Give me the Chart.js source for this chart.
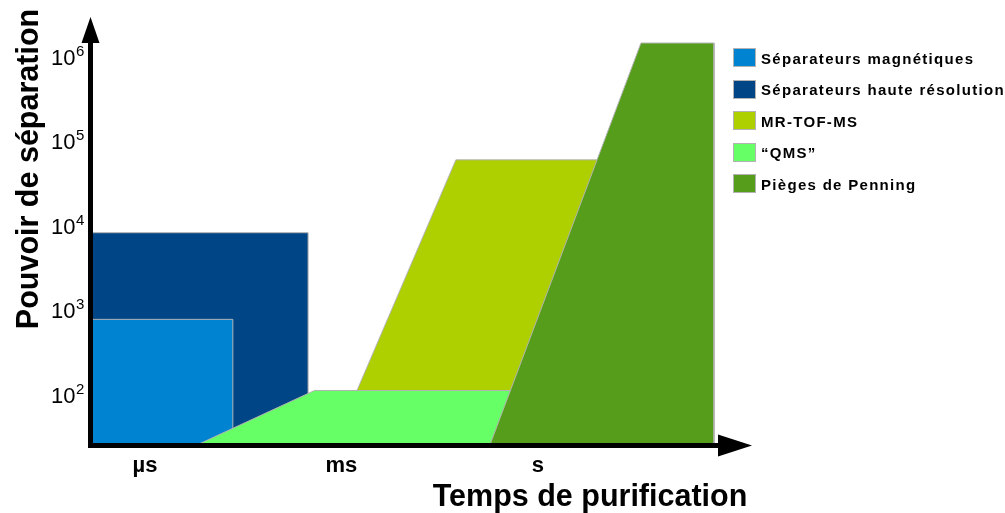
<!DOCTYPE html>
<html>
<head>
<meta charset="utf-8">
<script src="https://cdn.jsdelivr.net/npm/chart.js@4.4.1/dist/chart.umd.min.js"></script>
<style>
  html, body { margin: 0; padding: 0; background: #ffffff; }
  #wrap { position: relative; width: 1005px; height: 513px; overflow: hidden; }
  #c { position: absolute; left: 0; top: 0; }
  .lg-box { position: absolute; width: 23px; height: 19px; box-sizing: border-box; border: 1px solid #b3b3b3; }
  .lg-text { position: absolute; font: bold 15px "Liberation Sans", Arial, sans-serif; letter-spacing: 1.3px; color: #000; white-space: nowrap; line-height: 19px; }
</style>
</head>
<body>
<div id="wrap">
  <canvas id="c" width="1005" height="513"></canvas>
</div>
<script>
// ---------- data ----------
// axis ranges (seconds, resolving power)
const X_MIN = 1.45e-7, X_MAX = 1860;
const Y_MIN = 26, Y_MAX = 3.05e6;

// x tick labels (purification time)
const xTickValues = [1e-6, 1e-3, 1];
const xTickLabels = ['µs', 'ms', 's'];
// y tick labels: powers of ten
const yTickExponents = [2, 3, 4, 5, 6];

const seriesNames = [
  'Séparateurs magnétiques',
  'Séparateurs haute résolution',
  'MR-TOF-MS',
  '“QMS”',
  'Pièges de Penning'
];
const seriesColors = ['#0084d1', '#004586', '#aecf00', '#66ff66', '#579d1c'];
// stacking: lower = drawn on top
const seriesOrder = [3, 4, 1, 2, 0];

// polygon corners: time (s) and resolving power
const magX  = [X_MIN, 2.2e-5, 2.2e-5, X_MIN, X_MIN];
const magY  = [Y_MIN, Y_MIN, 800, 800, Y_MIN];
const hrX   = [X_MIN, 3.1e-4, 3.1e-4, X_MIN, X_MIN];
const hrY   = [Y_MIN, Y_MIN, 8500, 8500, Y_MIN];
const tofX  = [1.73e-3, 0.056, 30, 30, 1.73e-3];
const tofY  = [115, 62000, 62000, 115, 115];
const qmsX  = [6.2e-6, 3.9e-4, 1, 1, 6.2e-6];
const qmsY  = [Y_MIN, 115, 115, Y_MIN, Y_MIN];
const penX  = [0.185, 37.5, 490, 490, 0.185];
const penY  = [Y_MIN, 1.5e6, 1.5e6, Y_MIN, Y_MIN];

const seriesX = [magX, hrX, tofX, qmsX, penX];
const seriesY = [magY, hrY, tofY, qmsY, penY];

// ---------- chart ----------
const FONT = '"Liberation Sans", Arial, sans-serif';

const datasets = seriesNames.map((name, i) => ({
  label: name,
  data: seriesX[i].map((x, j) => ({ x: x, y: seriesY[i][j] })),
  backgroundColor: seriesColors[i],
  borderColor: '#b3b3b3',
  borderWidth: 1,
  pointRadius: 0,
  pointHoverRadius: 0,
  tension: 0,
  fill: 'shape',
  order: seriesOrder[i]
}));

const decorPlugin = {
  id: 'decor',
  afterDatasetsDraw(chart) {
    const ctx = chart.ctx;
    const a = chart.chartArea;
    const xs = chart.scales.x, ys = chart.scales.y;
    const ax = a.left + 0.5, ay = a.bottom + 0.5;
    ctx.save();
    ctx.fillStyle = '#000';
    ctx.strokeStyle = '#000';
    ctx.lineWidth = 5;
    ctx.lineCap = 'butt';
    // y axis line
    ctx.beginPath();
    ctx.moveTo(ax, ay + 2.5);
    ctx.lineTo(ax, a.top + 24);
    ctx.stroke();
    // x axis line
    ctx.beginPath();
    ctx.moveTo(ax - 2.5, ay);
    ctx.lineTo(a.right - 32, ay);
    ctx.stroke();
    // y arrow
    ctx.beginPath();
    ctx.moveTo(ax, a.top);
    ctx.lineTo(ax - 9, a.top + 26);
    ctx.lineTo(ax + 9, a.top + 26);
    ctx.closePath();
    ctx.fill();
    // x arrow
    ctx.beginPath();
    ctx.moveTo(a.right, ay);
    ctx.lineTo(a.right - 34, ay - 11);
    ctx.lineTo(a.right - 34, ay + 11);
    ctx.closePath();
    ctx.fill();

    // y tick labels 10^n
    ctx.textBaseline = 'middle';
    ctx.textAlign = 'left';
    yTickExponents.forEach(e => {
      const py = ys.getPixelForValue(Math.pow(10, e));
      ctx.font = '22px ' + FONT;
      const base = '10';
      const bx = 51;
      ctx.fillText(base, bx, py + 1);
      const w = ctx.measureText(base).width;
      ctx.font = '15px ' + FONT;
      ctx.fillText(String(e), bx + w + 0.5, py - 6);
    });

    // x tick labels
    ctx.font = 'bold 22px ' + FONT;
    ctx.textAlign = 'center';
    ctx.textBaseline = 'alphabetic';
    xTickValues.forEach((v, i) => {
      ctx.fillText(xTickLabels[i], xs.getPixelForValue(v), 472);
    });

    // axis titles
    ctx.font = 'bold 30.5px ' + FONT;
    ctx.textAlign = 'center';
    ctx.fillText('Temps de purification', 590, 506);
    ctx.save();
    ctx.translate(38, 169);
    ctx.rotate(-Math.PI / 2);
    ctx.fillText('Pouvoir de séparation', 0, 0);
    ctx.restore();
    ctx.restore();
  }
};

new Chart(document.getElementById('c'), {
  type: 'line',
  data: { datasets: datasets },
  options: {
    responsive: false,
    animation: false,
    devicePixelRatio: 1,
    layout: { padding: { left: 90, top: 17, right: 253, bottom: 68 } },
    scales: {
      x: { type: 'logarithmic', min: X_MIN, max: X_MAX, bounds: 'data', display: false },
      y: { type: 'logarithmic', min: Y_MIN, max: Y_MAX, bounds: 'data', display: false }
    },
    plugins: {
      legend: { display: false },
      tooltip: { enabled: false }
    },
    elements: { line: { capBezierPoints: false } }
  },
  plugins: [decorPlugin]
});

// ---------- legend ----------
const wrap = document.getElementById('wrap');
seriesNames.forEach((name, i) => {
  const top = 48 + i * 31.5;
  const b = document.createElement('div');
  b.className = 'lg-box';
  b.style.left = '733px';
  b.style.top = top + 'px';
  b.style.background = seriesColors[i];
  wrap.appendChild(b);
  const t = document.createElement('div');
  t.className = 'lg-text';
  t.style.left = '761px';
  t.style.top = (top + 0.5) + 'px';
  t.textContent = name;
  wrap.appendChild(t);
});
</script>
</body>
</html>
